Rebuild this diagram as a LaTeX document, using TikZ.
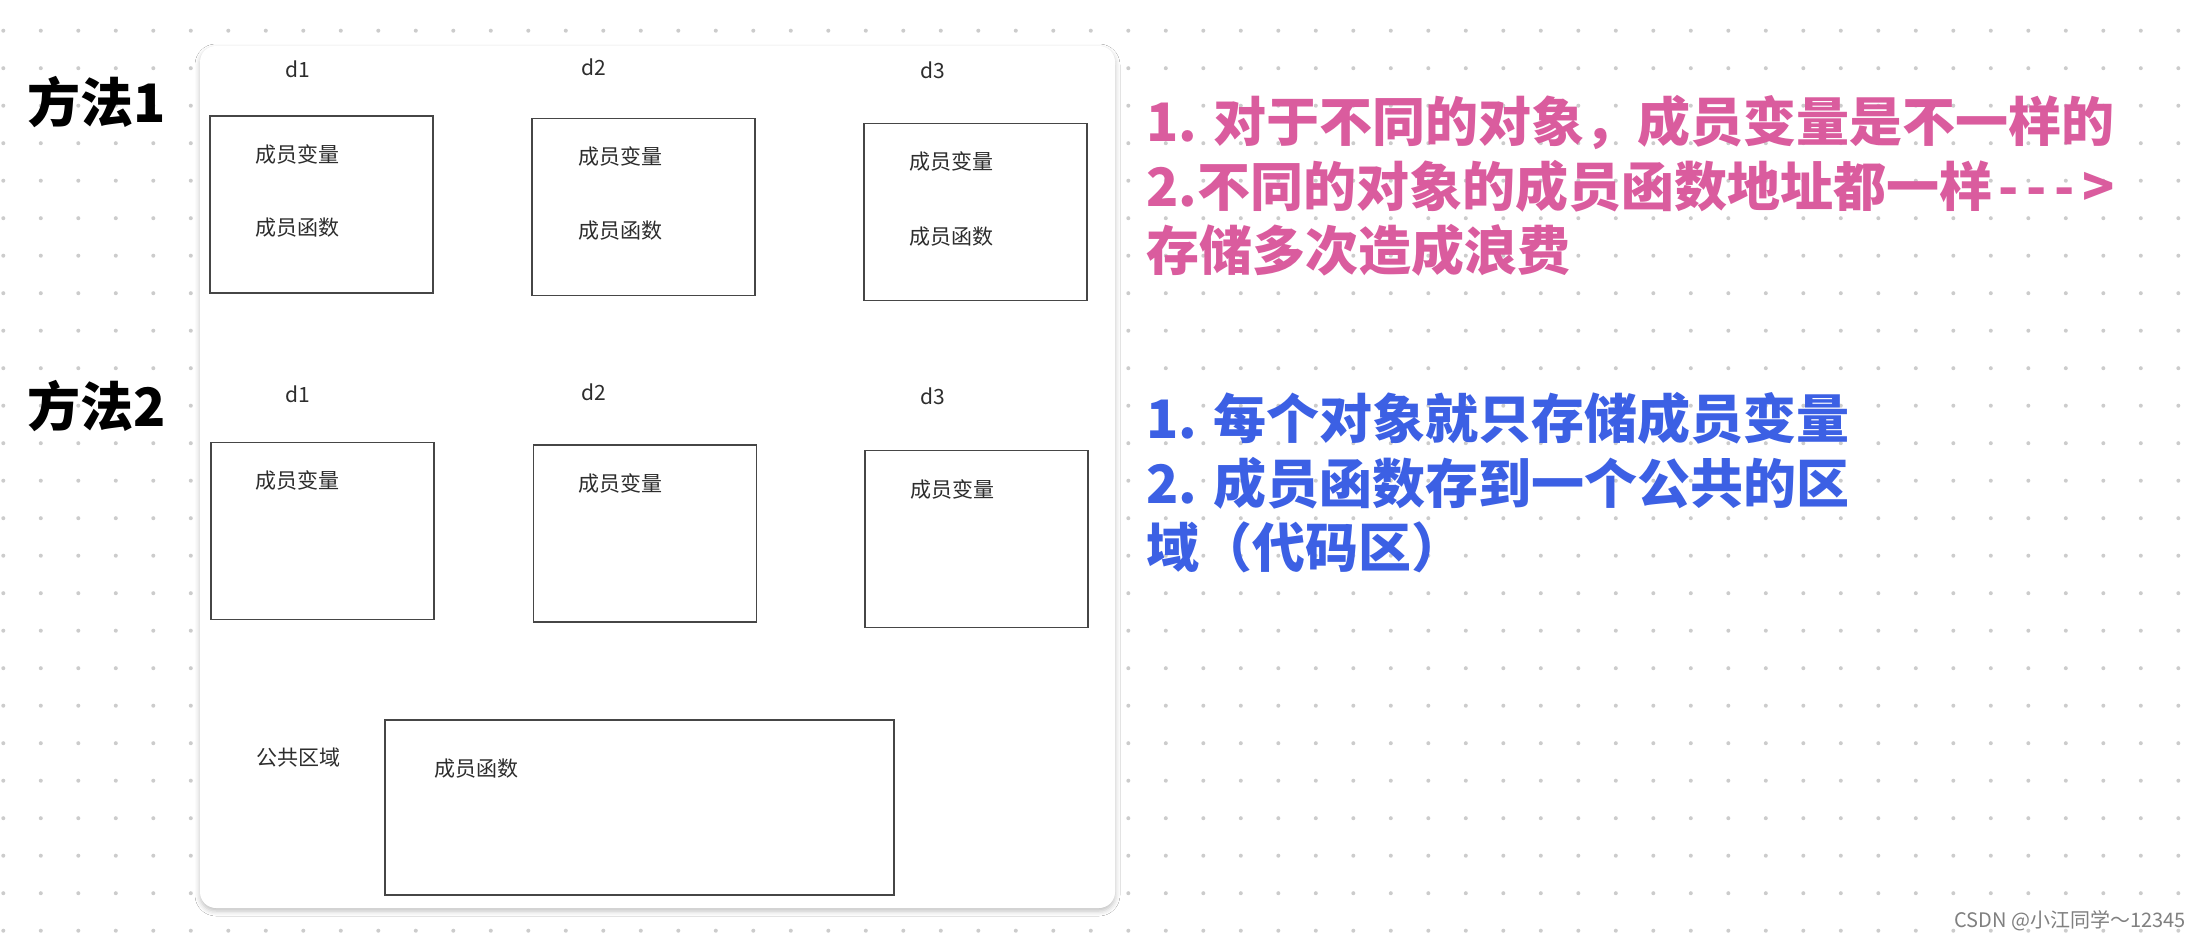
\documentclass[tikz,border=0pt]{standalone}
\usepackage{fontspec}
\newfontfamily\cjk{Noto Sans CJK SC}
\usetikzlibrary{shadows.blur}

\definecolor{dotgray}{RGB}{204,204,204}
\definecolor{boxgray}{RGB}{70,70,70}
\definecolor{txtgray}{RGB}{45,45,45}
\definecolor{notepink}{RGB}{218,92,158}
\definecolor{noteblue}{RGB}{60,96,228}

\begin{document}
\begin{tikzpicture}[x=1pt, y=-1pt,
    objbox/.style={draw=boxgray, line width=1.5pt, inner sep=0pt,
        minimum width=223pt, minimum height=177pt},
    smalltxt/.style={font=\cjk\fontsize{21}{25}\selectfont, text=txtgray, inner sep=0pt},
    method/.style={font=\cjk\bfseries\fontsize{53}{60}\selectfont, inner sep=0pt},
    note/.style={font=\cjk\bfseries\fontsize{53}{64.5}\selectfont, align=left,
        anchor=west, inner sep=0pt}]
    \useasboundingbox[fill=white] (0,0) rectangle (2196,940);
    % dotted canvas
    \foreach \i in {0,...,58}
        \foreach \j in {0,...,24}
            \fill[dotgray] (3.3+37.5*\i, 30.7+37.5*\j) circle (2);
    % white panel
    \fill[white, rounded corners=16pt,
        blur shadow={shadow xshift=0pt, shadow yshift=-3pt, shadow blur radius=5pt, shadow opacity=25}]
        (200,46) rectangle (1115,908);

    \node[method] (m1) at (97,102) {方法1};
    \node[method] (m2) at (97,406) {方法2};

    % method 1
    \node[smalltxt] (d1a) at (298,69) {d1};
    \node[smalltxt] (d2a) at (594,67) {d2};
    \node[smalltxt] (d3a) at (933,70) {d3};
    \node[objbox] (b1) at (321.5,204.5) {};
    \node[objbox] (b2) at (643.5,207) {};
    \node[objbox] (b3) at (975.5,212) {};
    \node[smalltxt] (v1) at (297,154) {成员变量};
    \node[smalltxt] (f1) at (297,228) {成员函数};
    \node[smalltxt] (v2) at (620,156) {成员变量};
    \node[smalltxt] (f2) at (620,231) {成员函数};
    \node[smalltxt] (v3) at (951,161) {成员变量};
    \node[smalltxt] (f3) at (951,237) {成员函数};

    % method 2
    \node[smalltxt] (d1b) at (298,394) {d1};
    \node[smalltxt] (d2b) at (594,392) {d2};
    \node[smalltxt] (d3b) at (933,396) {d3};
    \node[objbox] (b4) at (322.5,531) {};
    \node[objbox] (b5) at (645,533.5) {};
    \node[objbox] (b6) at (976.5,539) {};
    \node[smalltxt] (v4) at (297,480) {成员变量};
    \node[smalltxt] (v5) at (620,483) {成员变量};
    \node[smalltxt] (v6) at (952,489) {成员变量};
    \node[smalltxt] (pub) at (298,758) {公共区域};
    \node[objbox, minimum width=509pt, minimum height=175pt] (code) at (639.5,807.5) {};
    \node[smalltxt] (f0) at (476,769) {成员函数};

    % notes
    \node[note, text=notepink] (n1) at (1146,186)
        {1. 对于不同的对象，成员变量是不一样的\\
         2.不同的对象的成员函数地址都一样\kern6pt-\kern8pt-\kern8pt-\kern8pt>\\
         存储多次造成浪费};
    \node[note, text=noteblue] (n2) at (1146,483)
        {1. 每个对象就只存储成员变量\\2. 成员函数存到一个公共的区\\域（代码区）};

    \node[font=\cjk\fontsize{20}{23}\selectfont, text=gray, anchor=east, inner sep=0pt] (wm)
        at (2186,921) {CSDN @小江同学～12345};
\end{tikzpicture}
\end{document}
